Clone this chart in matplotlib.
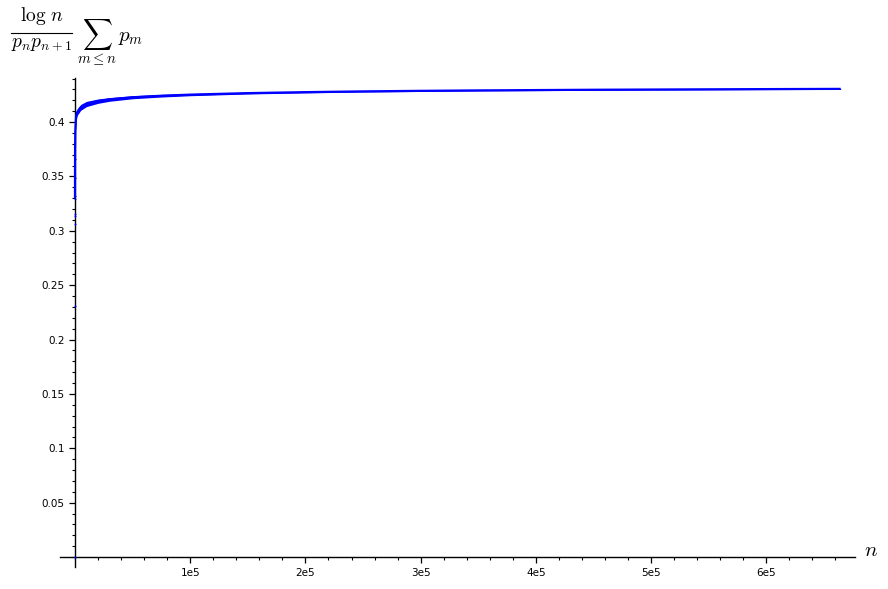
import matplotlib
matplotlib.use("Agg")
import matplotlib.pyplot as plt
from matplotlib.lines import Line2D
from matplotlib.ticker import FixedLocator, MultipleLocator, NullFormatter

# ---- data ----
# first few isolated points (n small)
n_points = [1, 2, 3, 4, 5, 6, 7, 8, 9]
y_points = [0.0, 0.231, 0.314, 0.306, 0.315, 0.332, 0.349, 0.366, 0.329]

# smooth trend of the dense curve
n_curve = [10, 30, 100, 300, 1000, 2000, 5000, 10000, 20000, 30000, 50000,
           75000, 100000, 150000, 200000, 250000, 300000, 350000, 400000,
           450000, 500000, 550000, 600000, 664579]
y_curve = [0.330, 0.355, 0.3756, 0.392, 0.4053, 0.4092, 0.4135, 0.4166,
           0.4192, 0.4208, 0.4228, 0.4242, 0.4252, 0.4266, 0.4275, 0.4282,
           0.4287, 0.4291, 0.4294, 0.4297, 0.4299, 0.4301, 0.4303, 0.4305]
# half-width of the jitter band around the trend
band = [0.004, 0.004, 0.004, 0.004, 0.0035, 0.003, 0.0027, 0.0024,
        0.0020, 0.0017, 0.0014, 0.0012, 0.0010, 0.0008, 0.0007, 0.0006,
        0.0006, 0.0005, 0.0005, 0.0005, 0.0005, 0.0005, 0.0005, 0.0005]

x_tick_vals = [100000, 200000, 300000, 400000, 500000, 600000]
x_tick_labels = ["1e5", "2e5", "3e5", "4e5", "5e5", "6e5"]
y_tick_vals = [0.05, 0.1, 0.15, 0.2, 0.25, 0.3, 0.35, 0.4]
y_tick_labels = ["0.05", "0.1", "0.15", "0.2", "0.25", "0.3", "0.35", "0.4"]

plt.rcParams["mathtext.fontset"] = "cm"

W, H = 888, 589
fig = plt.figure(figsize=(W / 100, H / 100), dpi=100)
left, right, top, bottom = 60, 855, 78, 567
ax = fig.add_axes([left / W, 1 - bottom / H, (right - left) / W, (bottom - top) / H])

blue = (0, 0, 1)
lo = [y - b for y, b in zip(y_curve, band)]
hi = [y + b for y, b in zip(y_curve, band)]
ax.fill_between(n_curve, lo, hi, color=blue, linewidth=0, zorder=3)
ax.plot(n_curve, y_curve, color=blue, linewidth=1.6, zorder=3, solid_capstyle="butt")
ax.scatter(n_points, y_points, s=2, color=blue, zorder=4, linewidths=0)

ax.set_xlim(-13000, 677000)
ax.set_ylim(-0.0091, 0.4405)

for s in ["top", "right"]:
    ax.spines[s].set_visible(False)
ax.spines["left"].set_position(("data", 0))
ax.spines["bottom"].set_position(("data", 0))
for s in ["left", "bottom"]:
    ax.spines[s].set_linewidth(1.0)
    ax.spines[s].set_color("black")

ax.xaxis.set_major_locator(FixedLocator(x_tick_vals))
ax.set_xticklabels(x_tick_labels)
ax.xaxis.set_minor_locator(MultipleLocator(20000))
ax.yaxis.set_major_locator(FixedLocator(y_tick_vals))
ax.set_yticklabels(y_tick_labels)
ax.yaxis.set_minor_locator(MultipleLocator(0.01))
ax.xaxis.set_minor_formatter(NullFormatter())
ax.yaxis.set_minor_formatter(NullFormatter())

ax.tick_params(which="major", direction="out", length=4, width=0.9, labelsize=7.5, pad=3.5)
ax.tick_params(which="minor", direction="out", length=2.2, width=0.8)
ax.patch.set_alpha(0)


def px(x, y):
    return x / W, 1 - y / H


fig.text(*px(871, 550), r"$n$", fontsize=15, ha="center", va="center")

# y-axis label: log n / (p_n p_{n+1}) * sum_{m<=n} p_m, laid out piecewise
fig.text(*px(41.5, 21), r"$\log\, n$", fontsize=14, ha="center", va="baseline")
fig.add_artist(Line2D([11 / W, 72 / W], [1 - 32.5 / H, 1 - 32.5 / H],
                      color="black", linewidth=0.8, transform=fig.transFigure))
fig.text(*px(41.5, 46.5), r"$p_n p_{n+1}$", fontsize=14, ha="center", va="baseline")
fig.text(*px(77, 42), r"$\sum_{m\leq n}\, p_m$", fontsize=15, ha="left", va="baseline")

fig.savefig("out.png", dpi=100)
